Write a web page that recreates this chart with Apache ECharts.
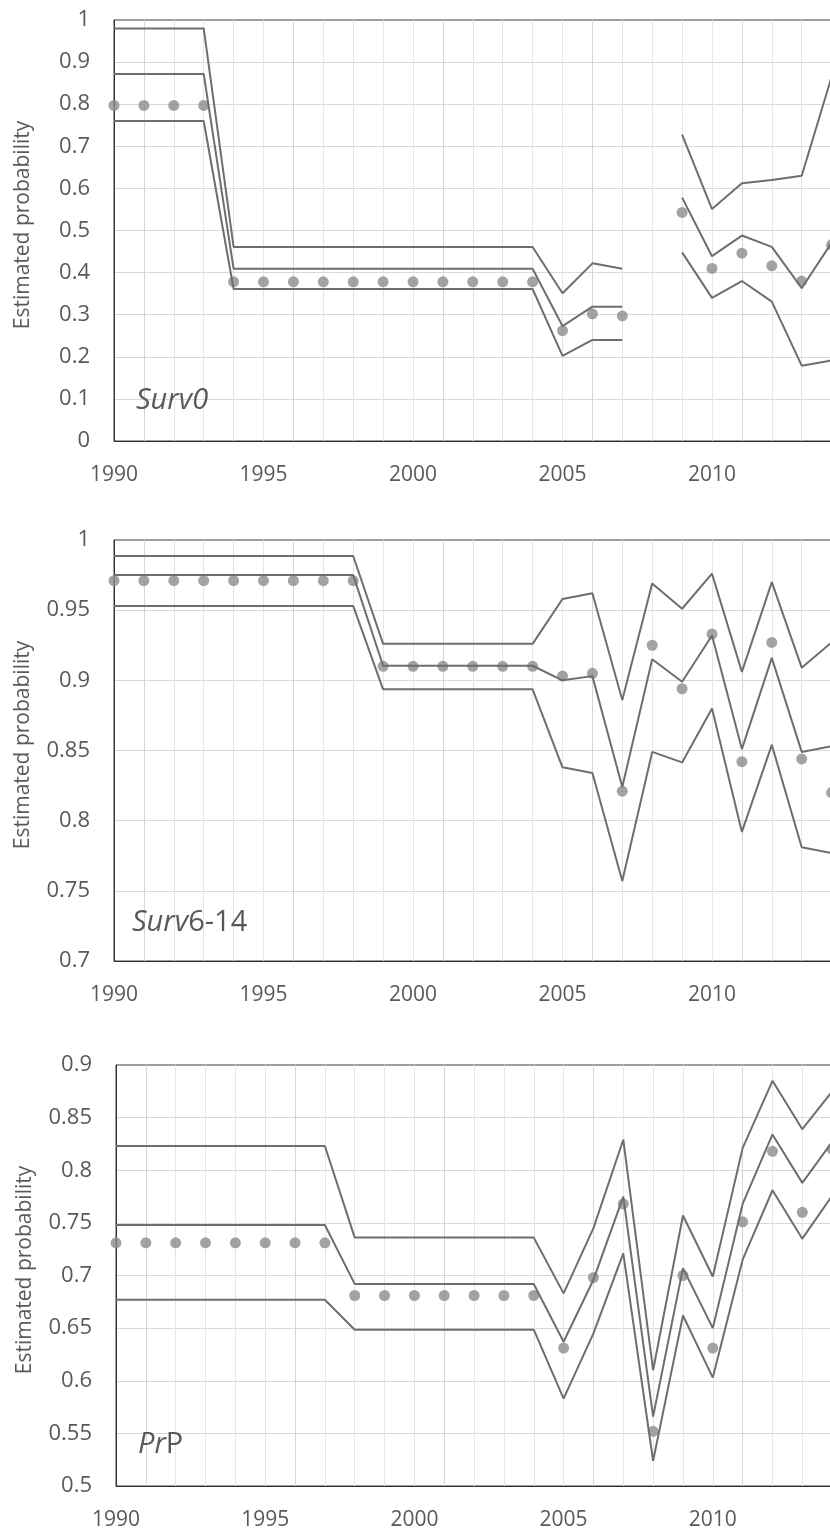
<!DOCTYPE html>
<html>
<head>
<meta charset="utf-8">
<script src="https://cdn.jsdelivr.net/npm/echarts@6/dist/echarts.min.js"></script>
<style>
  html, body { margin: 0; padding: 0; background: #ffffff; }
  #chart { width: 830px; height: 1531px; }
</style>
</head>
<body>
<div id="chart"></div>
<script>
// Survey years shared by all three panels
const years = [1990, 1991, 1992, 1993, 1994, 1995, 1996, 1997, 1998, 1999,
               2000, 2001, 2002, 2003, 2004, 2005, 2006, 2007, 2008, 2009,
               2010, 2011, 2012, 2013, 2014];

// Surv0: point estimates, model fit and its upper / lower bounds (null = no estimate)
const surv0Est   = [0.797, 0.797, 0.797, 0.797, 0.378, 0.378, 0.378, 0.378, 0.378, 0.378,
                    0.378, 0.378, 0.378, 0.378, 0.378, 0.262, 0.302, 0.297, null, 0.543,
                    0.410, 0.446, 0.416, 0.380, 0.466];
const surv0Upper = [0.980, 0.980, 0.980, 0.980, 0.461, 0.461, 0.461, 0.461, 0.461, 0.461,
                    0.461, 0.461, 0.461, 0.461, 0.461, 0.351, 0.422, 0.409, null, 0.728,
                    0.551, 0.612, 0.620, 0.630, 0.865];
const surv0Mid   = [0.872, 0.872, 0.872, 0.872, 0.409, 0.409, 0.409, 0.409, 0.409, 0.409,
                    0.409, 0.409, 0.409, 0.409, 0.409, 0.273, 0.319, 0.319, null, 0.578,
                    0.439, 0.488, 0.461, 0.363, 0.471];
const surv0Lower = [0.760, 0.760, 0.760, 0.760, 0.361, 0.361, 0.361, 0.361, 0.361, 0.361,
                    0.361, 0.361, 0.361, 0.361, 0.361, 0.202, 0.240, 0.240, null, 0.448,
                    0.340, 0.380, 0.331, 0.179, 0.191];

// Surv6-14
const survJuvEst   = [0.971, 0.971, 0.971, 0.971, 0.971, 0.971, 0.971, 0.971, 0.971, 0.910,
                      0.910, 0.910, 0.910, 0.910, 0.910, 0.903, 0.905, 0.821, 0.925, 0.894,
                      0.933, 0.842, 0.927, 0.844, 0.820];
const survJuvUpper = [0.9886, 0.9886, 0.9886, 0.9886, 0.9886, 0.9886, 0.9886, 0.9886, 0.9886, 0.926,
                      0.926, 0.926, 0.926, 0.926, 0.926, 0.958, 0.962, 0.886, 0.969, 0.951,
                      0.976, 0.906, 0.970, 0.909, 0.927];
const survJuvMid   = [0.975, 0.975, 0.975, 0.975, 0.975, 0.975, 0.975, 0.975, 0.975, 0.9104,
                      0.9104, 0.9104, 0.9104, 0.9104, 0.9104, 0.900, 0.903, 0.824, 0.915, 0.899,
                      0.932, 0.851, 0.916, 0.849, 0.853];
const survJuvLower = [0.953, 0.953, 0.953, 0.953, 0.953, 0.953, 0.953, 0.953, 0.953, 0.8936,
                      0.8936, 0.8936, 0.8936, 0.8936, 0.8936, 0.838, 0.834, 0.757, 0.849, 0.8415,
                      0.880, 0.792, 0.854, 0.781, 0.777];

// PrP
const prpEst   = [0.731, 0.731, 0.731, 0.731, 0.731, 0.731, 0.731, 0.731, 0.681, 0.681,
                  0.681, 0.681, 0.681, 0.681, 0.681, 0.631, 0.698, 0.768, 0.552, 0.700,
                  0.631, 0.751, 0.818, 0.760, 0.820];
const prpUpper = [0.823, 0.823, 0.823, 0.823, 0.823, 0.823, 0.823, 0.823, 0.736, 0.736,
                  0.736, 0.736, 0.736, 0.736, 0.736, 0.683, 0.745, 0.829, 0.610, 0.757,
                  0.699, 0.821, 0.885, 0.839, 0.875];
const prpMid   = [0.748, 0.748, 0.748, 0.748, 0.748, 0.748, 0.748, 0.748, 0.692, 0.692,
                  0.692, 0.692, 0.692, 0.692, 0.692, 0.637, 0.696, 0.775, 0.566, 0.707,
                  0.650, 0.768, 0.834, 0.788, 0.827];
const prpLower = [0.677, 0.677, 0.677, 0.677, 0.677, 0.677, 0.677, 0.677, 0.6485, 0.6485,
                  0.6485, 0.6485, 0.6485, 0.6485, 0.6485, 0.583, 0.645, 0.721, 0.524, 0.662,
                  0.603, 0.715, 0.781, 0.735, 0.776];

// Y-axis ranges per panel
const yRanges = [
  { min: 0,   max: 1,   interval: 0.1 },
  { min: 0.7, max: 1,   interval: 0.05 },
  { min: 0.5, max: 0.9, interval: 0.05 }
];
const panelLabels = ['{i|Surv0}', '{i|Surv}{n|6-14}', '{i|Pr}{n|P}'];

const FONT = 'Open Sans';
const TEXT = '#595959';
const LINE = '#6e6e6e';
const DOT = '#8c8c8c';

function pairs(values) {
  return years.map((y, i) => [y, values[i] == null ? '-' : values[i]]);
}

// Plot areas run past the right edge of the page, as in the source figure
const grids = [
  { left: 114, top: 20,   width: 747.5, height: 421 },
  { left: 114, top: 540,  width: 747.5, height: 421 },
  { left: 116, top: 1065, width: 746,   height: 421 }
].map(g => Object.assign(g, {
  show: true, borderColor: '#3c3c3c', borderWidth: 1, backgroundColor: 'transparent',
  containLabel: false, outerBoundsMode: 'none'
}));

// Yearly vertical gridlines, every fifth one a little darker
const yearLineColors = ['#d6d6d6', '#e6e6e6', '#e6e6e6', '#e6e6e6', '#e6e6e6'];

const xAxes = grids.map((g, i) => ({
  type: 'value', gridIndex: i, min: 1990, max: 2015, interval: 1,
  axisLine: { show: true, lineStyle: { color: '#333333', width: 1 } },
  axisTick: { show: false },
  axisLabel: {
    color: TEXT, fontFamily: FONT, fontSize: 21, margin: 24,
    formatter: v => (v % 5 === 0 ? String(v) : '')
  },
  splitLine: { show: true, showMinLine: false, lineStyle: { color: yearLineColors, width: 1 } }
}));

const yAxes = yRanges.map((r, i) => ({
  type: 'value', gridIndex: i, min: r.min, max: r.max, interval: r.interval,
  name: 'Estimated probability', nameLocation: 'middle', nameGap: 80,
  nameTextStyle: { color: TEXT, fontFamily: FONT, fontSize: 21, padding: [0, 0, 0, 11] },
  axisLine: { show: true, lineStyle: { color: '#333333', width: 1 } },
  axisTick: { show: false },
  axisLabel: { color: TEXT, fontFamily: FONT, fontSize: 22, margin: 24 },
  splitLine: { show: true, showMinLine: false, showMaxLine: false, lineStyle: { color: '#d9d9d9', width: 1 } }
}));

const panels = [
  { est: surv0Est,   bands: [surv0Upper, surv0Mid, surv0Lower] },
  { est: survJuvEst, bands: [survJuvUpper, survJuvMid, survJuvLower] },
  { est: prpEst,     bands: [prpUpper, prpMid, prpLower] }
];

const series = [];
panels.forEach((p, i) => {
  series.push({
    type: 'scatter', xAxisIndex: i, yAxisIndex: i, data: pairs(p.est),
    symbol: 'circle', symbolSize: 11, itemStyle: { color: DOT }, clip: false, z: 2
  });
  p.bands.forEach(b => {
    series.push({
      type: 'line', xAxisIndex: i, yAxisIndex: i, data: pairs(b),
      showSymbol: false, symbol: 'none', connectNulls: false,
      lineStyle: { color: LINE, width: 2 }, z: 3
    });
  });
});

const titles = [
  { left: 136, top: 386 },
  { left: 132, top: 908 },
  { left: 138, top: 1430 }
].map((t, i) => ({
  left: t.left, top: t.top, padding: 0,
  text: panelLabels[i],
  textStyle: {
    fontFamily: FONT, fontSize: 29, lineHeight: 30, color: TEXT, fontWeight: 'normal',
    rich: {
      i: { fontFamily: FONT, fontSize: 29, lineHeight: 30, color: TEXT, fontStyle: 'italic' },
      n: { fontFamily: FONT, fontSize: 29, lineHeight: 30, color: TEXT }
    }
  }
}));

const chart = echarts.init(document.getElementById('chart'), null, { renderer: 'canvas' });
chart.setOption({
  animation: false,
  backgroundColor: '#ffffff',
  title: titles,
  grid: grids,
  xAxis: xAxes,
  yAxis: yAxes,
  series: series
});
</script>
</body>
</html>
